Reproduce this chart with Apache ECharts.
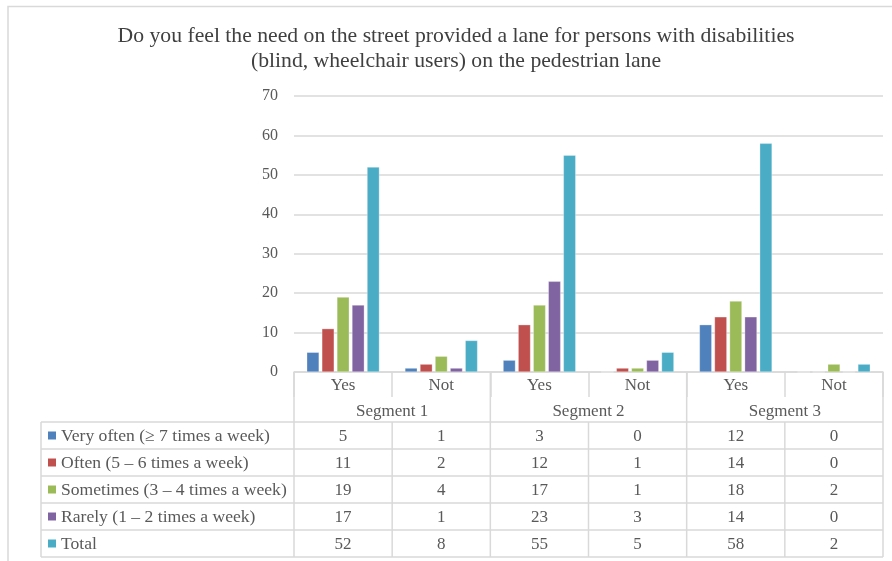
<!DOCTYPE html>
<html><head><meta charset="utf-8">
<script src="https://cdn.jsdelivr.net/npm/echarts@6/dist/echarts.min.js"></script>
<style>html,body{margin:0;padding:0;background:#fff}#c{width:892px;height:561px}</style>
</head><body><div id="c"></div>
<script>
const titleLines = ['Do you feel the need on the street provided a lane for persons with disabilities', '(blind, wheelchair users) on the pedestrian lane'];
const categories = ['Yes', 'Not', 'Yes', 'Not', 'Yes', 'Not'];
const segments = ['Segment 1', 'Segment 2', 'Segment 3'];
const seriesNames = ['Very often (\u2265 7 times a week)', 'Often (5 \u2013 6 times a week)', 'Sometimes (3 \u2013 4 times a week)', 'Rarely (1 \u2013 2 times a week)', 'Total'];
const veryOften = [5, 1, 3, 0, 12, 0];
const often = [11, 2, 12, 1, 14, 0];
const sometimes = [19, 4, 17, 1, 18, 2];
const rarely = [17, 1, 23, 3, 14, 0];
const total = [52, 8, 55, 5, 58, 2];
const yMin = 0, yMax = 70, yStep = 10;

const seriesData = [veryOften, often, sometimes, rarely, total];
const colors = ['#4F81BD', '#C0504D', '#9BBB59', '#8064A2', '#4BACC6'];
const gridCol = '#d9d9d9';
const txtCol = '#595959';
const FONT = '"Liberation Serif", "Times New Roman", serif';

const chart = echarts.init(document.getElementById('c'));
chart.setOption({
  animation: false,
  color: colors,
  title: {
    text: titleLines.join('\n'),
    left: 451, top: 19, textAlign: 'center',
    textStyle: { fontFamily: FONT, fontSize: 21.7, fontWeight: 'normal', color: '#404040', lineHeight: 25, align: 'center' }
  },
  grid: { left: 294, right: 9, top: 96, bottom: 189 },
  xAxis: {
    type: 'category', data: categories,
    axisLine: { lineStyle: { color: gridCol, width: 1.5 } },
    axisTick: { show: true, interval: 0, length: 25, lineStyle: { color: gridCol, width: 1.5 } },
    axisLabel: { interval: 0, margin: 5, fontFamily: FONT, fontSize: 17, color: txtCol }
  },
  yAxis: {
    type: 'value', min: yMin, max: yMax, interval: yStep,
    axisLine: { show: false }, axisTick: { show: false },
    splitLine: { lineStyle: { color: gridCol, width: 1.5 } },
    axisLabel: { margin: 16, fontFamily: FONT, fontSize: 16, color: txtCol }
  },
  series: seriesData.map((d, i) => ({
    name: seriesNames[i], type: 'bar', data: d,
    barGap: '22%', barCategoryGap: '26%',
    itemStyle: { color: colors[i], borderColor: 'rgba(255,255,255,0.6)', borderWidth: 0.5 }
  }))
});

// Build the axis segment labels and data table from the library's scale
const c0 = chart.convertToPixel({ xAxisIndex: 0 }, 0);
const c1 = chart.convertToPixel({ xAxisIndex: 0 }, 1);
const bw = c1 - c0;
const boundary = i => c0 - bw / 2 + i * bw;
const axisY = chart.convertToPixel({ yAxisIndex: 0 }, 0);
const tableTop = axisY + 50;
const rowH = 27;
const tableLeft = 41;
const tableRight = boundary(categories.length);
const tableBottom = tableTop + rowH * seriesNames.length;

const g = [];
const line = (x1, y1, x2, y2) => g.push({ type: 'line', silent: true, shape: { x1, y1, x2, y2 }, style: { stroke: gridCol, lineWidth: 1.5 } });
const text = (t, x, y, align, size) => g.push({ type: 'text', silent: true, style: { text: t, x, y, textAlign: align || 'center', textVerticalAlign: 'middle', font: (size || 17) + 'px ' + FONT, fill: txtCol } });

// outer chart border
g.push({ type: 'rect', silent: true, shape: { x: 8, y: 6.5, width: 900, height: 600 }, style: { fill: null, stroke: gridCol, lineWidth: 1.5 } });

// segment labels + long boundaries
segments.forEach((s, i) => {
  text(s, (boundary(2 * i) + boundary(2 * i + 2)) / 2, axisY + 39.5);
});
for (let i = 0; i <= categories.length; i += 2) line(boundary(i), axisY, boundary(i), tableBottom);
for (let i = 1; i < categories.length; i += 2) line(boundary(i), tableTop, boundary(i), tableBottom);
// table horizontal lines
for (let r = 0; r <= seriesNames.length; r++) line(tableLeft, tableTop + r * rowH, tableRight, tableTop + r * rowH);
line(tableLeft, tableTop, tableLeft, tableBottom);
// rows
seriesNames.forEach((n, r) => {
  const cy = tableTop + r * rowH + rowH / 2 + 1;
  g.push({ type: 'rect', silent: true, shape: { x: 48, y: cy - 5, width: 8, height: 8 }, style: { fill: colors[r] } });
  text(n, 61, cy, 'left', 17.6);
  seriesData[r].forEach((v, i) => text(String(v), c0 + i * bw, cy));
});
chart.setOption({ graphic: g });
</script></body></html>
